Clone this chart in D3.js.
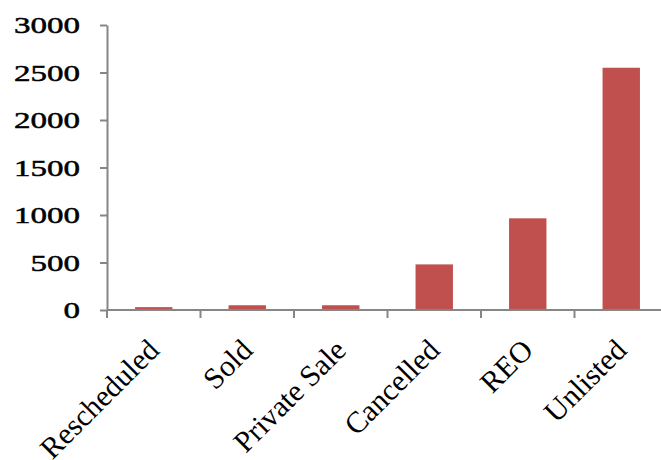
<!DOCTYPE html>
<html>
<head>
<meta charset="utf-8">
<script src="https://cdn.jsdelivr.net/npm/d3@7"></script>
<style>
  body { margin: 0; background: #fff; }
</style>
</head>
<body>
<div id="chart"></div>
<script>
// data
var categories = ["Rescheduled", "Sold", "Private Sale", "Cancelled", "REO", "Unlisted"];
var counts = [30, 50, 50, 480, 965, 2550];
var yTicks = [0, 500, 1000, 1500, 2000, 2500, 3000];

var svgWidth = 661;
var svgHeight = 460;

var margin = { top: 25, right: -7, bottom: 150, left: 107 };
var width = svgWidth - margin.left - margin.right;
var height = svgHeight - margin.top - margin.bottom;

var svg = d3.select("#chart")
  .append("svg")
  .attr("width", svgWidth)
  .attr("height", svgHeight);

var chartGroup = svg.append("g")
  .attr("transform", `translate(${margin.left}, ${margin.top})`);

var axisColor = "#868686";

// scales
var xScale = d3.scaleBand()
  .domain(categories)
  .range([0, width])
  .paddingInner(0.6)
  .paddingOuter(0.3);

var yScale = d3.scaleLinear()
  .domain([0, 3000])
  .range([height, 0]);

// y axis
var yAxis = d3.axisLeft(yScale)
  .tickValues(yTicks)
  .tickFormat(d3.format("d"))
  .tickSize(7)
  .tickPadding(20)
  .tickSizeOuter(0);

var yG = chartGroup.append("g").call(yAxis);
yG.attr("font-family", null).attr("font-size", null);
yG.select(".domain").attr("stroke", axisColor).attr("stroke-width", 2);
yG.selectAll(".tick line").attr("stroke", axisColor).attr("stroke-width", 2);
// digits in the original are wide, so stretch them a little
yG.selectAll(".tick text")
  .style("font-family", "'Liberation Serif', serif")
  .style("font-size", "24px")
  .attr("fill", "#000")
  .attr("stroke", "#000")
  .attr("stroke-width", 0.5)
  .attr("textLength", function() { return this.textContent.length * 16.5; })
  .attr("lengthAdjust", "spacingAndGlyphs");

// bars
chartGroup.selectAll("rect.bar")
  .data(categories)
  .enter()
  .append("rect")
  .attr("class", "bar")
  .attr("x", d => xScale(d))
  .attr("width", xScale.bandwidth())
  .attr("y", (d, i) => yScale(counts[i]))
  .attr("height", (d, i) => height - yScale(counts[i]))
  .attr("fill", "#C0504D");

// x axis line and ticks between categories
chartGroup.append("line")
  .attr("x1", 0)
  .attr("x2", width)
  .attr("y1", height)
  .attr("y2", height)
  .attr("stroke", axisColor)
  .attr("stroke-width", 2);

var step = xScale.step();
chartGroup.selectAll("line.xtick")
  .data(d3.range(categories.length + 1))
  .enter()
  .append("line")
  .attr("class", "xtick")
  .attr("x1", i => i * step)
  .attr("x2", i => i * step)
  .attr("y1", height)
  .attr("y2", height + 8)
  .attr("stroke", axisColor)
  .attr("stroke-width", 2);

// category labels, rotated
chartGroup.selectAll("text.xlabel")
  .data(categories)
  .enter()
  .append("text")
  .attr("class", "xlabel")
  .attr("text-anchor", "end")
  .style("font-family", "'Liberation Serif', serif")
  .style("font-size", "30px")
  .attr("fill", "#000")
  .attr("transform", d => `translate(${xScale(d) + xScale.bandwidth() / 2 + 7}, ${height + 42}) rotate(-45)`)
  .text(d => d);
</script>
</body>
</html>
